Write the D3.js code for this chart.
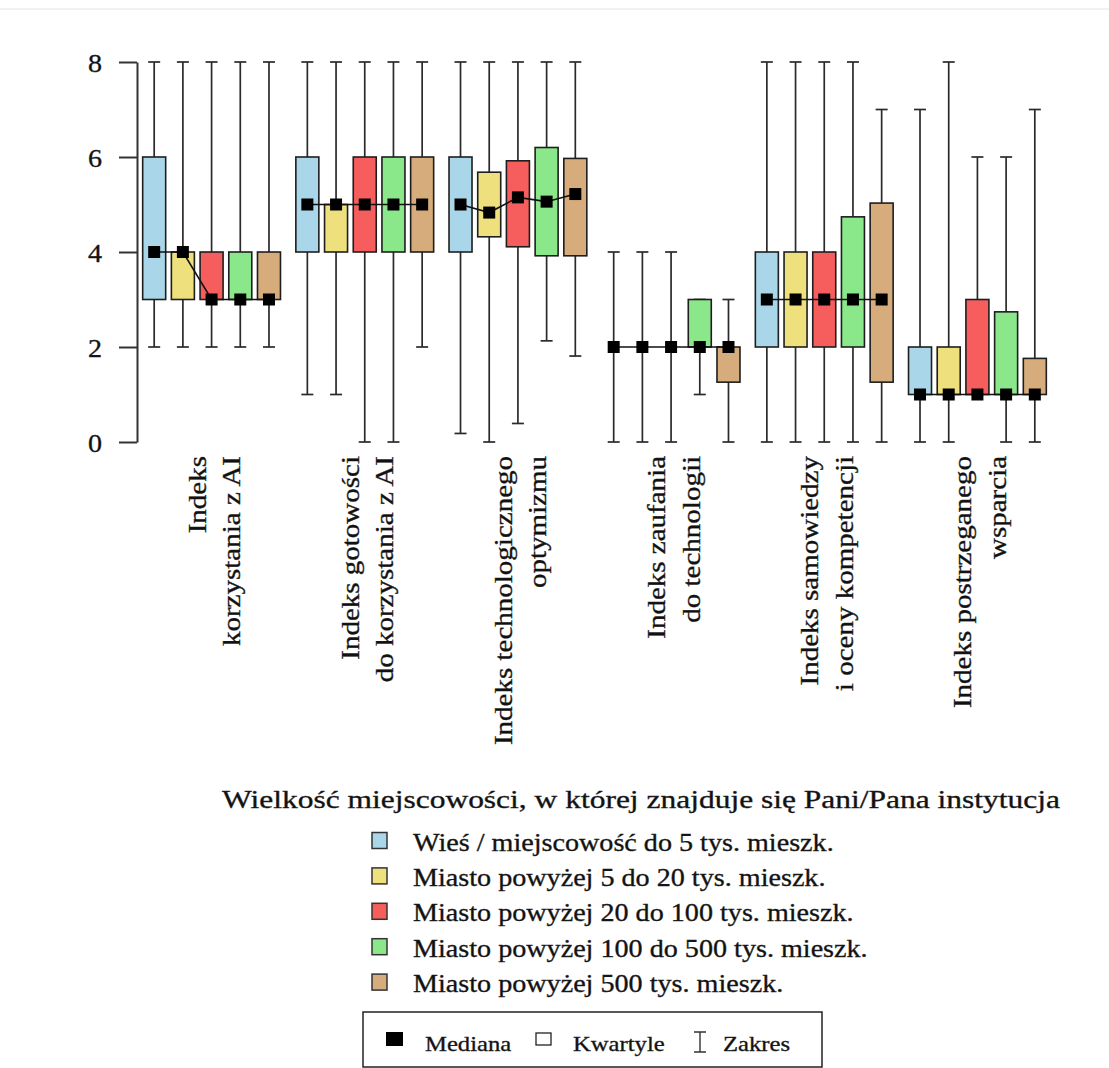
<!DOCTYPE html>
<html>
<head>
<meta charset="utf-8">
<script src="https://cdn.jsdelivr.net/npm/d3@7"></script>
<style>
  html, body { margin: 0; padding: 0; background: #fff; }
  svg { display: block; }
  svg text { font-family: 'Liberation Serif', 'Times New Roman', Tinos, 'DejaVu Serif', serif; fill: #111; stroke: #222; stroke-width: 0.35px; }
</style>
</head>
<body>
<svg id="chart" width="1109" height="1068"></svg>
<script>
// ---- data ----
const categories = [
  ["Indeks", "korzystania z AI"],
  ["Indeks gotowości", "do korzystania z AI"],
  ["Indeks technologicznego", "optymizmu"],
  ["Indeks zaufania", "do technologii"],
  ["Indeks samowiedzy", "i oceny kompetencji"],
  ["Indeks postrzeganego", "wsparcia"]
];
const seriesNames = [
  "Wieś / miejscowość do 5 tys. mieszk.",
  "Miasto powyżej 5 do 20 tys. mieszk.",
  "Miasto powyżej 20 do 100 tys. mieszk.",
  "Miasto powyżej 100 do 500 tys. mieszk.",
  "Miasto powyżej 500 tys. mieszk."
];
const seriesColors = ["#a9d6e8", "#eee07d", "#f65d5d", "#8ae78a", "#d6ac7c"];
// rows = categories, columns = series
const minVals = [
  [2, 2, 2, 2, 2],
  [1, 1, 0, 0, 2],
  [0.18, 0, 0.39, 2.13, 1.81],
  [0, 0, 0, 1, 0],
  [0, 0, 0, 0, 0],
  [0, 0, 1, 0, 0]
];
const q1Vals = [
  [3, 3, 3, 3, 3],
  [4, 4, 4, 4, 4],
  [4, 4.32, 4.11, 3.92, 3.92],
  [2, 2, 2, 2, 1.26],
  [2, 2, 2, 2, 1.26],
  [1, 1, 1, 1, 1]
];
const medianVals = [
  [4, 4, 3, 3, 3],
  [5, 5, 5, 5, 5],
  [5, 4.83, 5.15, 5.06, 5.22],
  [2, 2, 2, 2, 2],
  [3, 3, 3, 3, 3],
  [1, 1, 1, 1, 1]
];
const q3Vals = [
  [6, 4, 4, 4, 4],
  [6, 5, 6, 6, 6],
  [6, 5.68, 5.92, 6.2, 5.97],
  [2, 2, 2, 3, 2],
  [4, 4, 4, 4.74, 5.03],
  [2, 2, 3, 2.74, 1.76]
];
const maxVals = [
  [8, 8, 8, 8, 8],
  [8, 8, 8, 8, 8],
  [8, 8, 8, 8, 8],
  [4, 4, 4, 3, 3],
  [8, 8, 8, 8, 7],
  [7, 8, 6, 6, 7]
];
const yTicks = [0, 2, 4, 6, 8];
const legendTitle = "Wielkość miejscowości, w której znajduje się Pani/Pana instytucja";
const symbolLegend = ["Mediana", "Kwartyle", "Zakres"];

// ---- layout ----
const svg = d3.select("#chart");

function stretch(sel, k) {
  sel.each(function () {
    const L = this.getComputedTextLength();
    d3.select(this).attr("textLength", L * k).attr("lengthAdjust", "spacingAndGlyphs");
  });
}

svg.append("line").attr("x1", 0).attr("x2", 1109).attr("y1", 9).attr("y2", 9)
  .attr("stroke", "#e4e4e4").attr("stroke-width", 1);

const y = d3.scaleLinear().domain([0, 8]).range([442, 62]);
const x = d3.scaleBand().domain(d3.range(categories.length)).range([135, 1054]);
const xs = d3.scalePoint().domain(d3.range(seriesNames.length)).range([-57.4, 57.4]);
const boxW = 23, capW = 12, medS = 12;

// y axis
const yAxis = d3.axisLeft(y).tickValues(yTicks).tickSize(18).tickSizeOuter(0).tickPadding(17)
  .tickFormat(d3.format("d"));
const ga = svg.append("g").attr("transform", "translate(137,0)").call(yAxis);
ga.attr("font-family", null);
ga.selectAll("path, line").attr("stroke", "#333").attr("stroke-width", 2);
ga.selectAll("text").attr("font-size", 26).attr("fill", "#222").attr("dy", "0.38em");
stretch(ga.selectAll("text"), 1.08);

// boxes
categories.forEach((cat, ci) => {
  const cx = x(ci) + x.bandwidth() / 2;
  const g = svg.append("g");
  seriesNames.forEach((s, si) => {
    const sx = cx + xs(si);
    const mn = minVals[ci][si], mx = maxVals[ci][si];
    const q1 = q1Vals[ci][si], q3 = q3Vals[ci][si];
    g.append("line").attr("x1", sx).attr("x2", sx).attr("y1", y(mn)).attr("y2", y(mx))
      .attr("stroke", "#2a2a2a").attr("stroke-width", 1.7);
    [mn, mx].forEach(v => {
      g.append("line").attr("x1", sx - capW / 2).attr("x2", sx + capW / 2)
        .attr("y1", y(v)).attr("y2", y(v)).attr("stroke", "#2a2a2a").attr("stroke-width", 1.7);
    });
    if (q3 > q1) {
      g.append("rect").attr("x", sx - boxW / 2).attr("y", y(q3))
        .attr("width", boxW).attr("height", y(q1) - y(q3))
        .attr("fill", seriesColors[si]).attr("stroke", "#1e1e1e").attr("stroke-width", 1.6);
    }
  });
  const line = d3.line().x((d, si) => cx + xs(si)).y(d => y(d));
  g.append("path").attr("d", line(medianVals[ci])).attr("fill", "none")
    .attr("stroke", "#111").attr("stroke-width", 1.6);
  medianVals[ci].forEach((m, si) => {
    g.append("rect").attr("x", cx + xs(si) - medS / 2).attr("y", y(m) - medS / 2)
      .attr("width", medS).attr("height", medS).attr("fill", "#000");
  });
  const lg = svg.append("g").attr("transform", `translate(${cx},456) rotate(-90)`);
  const lbl = lg.selectAll("text").data(cat).join("text")
    .attr("x", 0).attr("y", (d, i) => -6 + i * 34.5)
    .attr("text-anchor", "end").attr("font-size", 25).text(d => d);
  stretch(lbl, 1.16);
});

// legend title
svg.append("text").attr("x", 641).attr("y", 808).attr("text-anchor", "middle")
  .attr("font-size", 25).text(legendTitle)
  .attr("textLength", 838).attr("lengthAdjust", "spacingAndGlyphs");

// series legend
const lgRows = svg.append("g");
seriesNames.forEach((s, i) => {
  const cy = 840.5 + i * 35.4;
  lgRows.append("rect").attr("x", 372).attr("y", cy - 8).attr("width", 15).attr("height", 16)
    .attr("fill", seriesColors[i]).attr("stroke", "#333").attr("stroke-width", 1.5);
  const tx = lgRows.append("text").attr("x", 413).attr("y", cy + 10).attr("font-size", 25).text(s);
  stretch(tx, 1.125);
});

// symbol legend box
const sb = svg.append("g");
sb.append("rect").attr("x", 363).attr("y", 1012).attr("width", 459).attr("height", 55)
  .attr("fill", "none").attr("stroke", "#222").attr("stroke-width", 1.5);
sb.append("rect").attr("x", 386).attr("y", 1032).attr("width", 17).attr("height", 14).attr("fill", "#000");
sb.append("rect").attr("x", 536).attr("y", 1033).attr("width", 15).attr("height", 12)
  .attr("fill", "#fff").attr("stroke", "#222").attr("stroke-width", 1.3);
sb.append("path").attr("d", "M694,1032 H706 M700,1032 V1052 M694,1052 H706")
  .attr("stroke", "#333").attr("stroke-width", 1.4).attr("fill", "none");
const symX = [425, 573, 723];
symbolLegend.forEach((s, i) => {
  const tx = sb.append("text").attr("x", symX[i]).attr("y", 1051).attr("font-size", 22).text(s);
  stretch(tx, 1.12);
});
</script>
</body>
</html>
